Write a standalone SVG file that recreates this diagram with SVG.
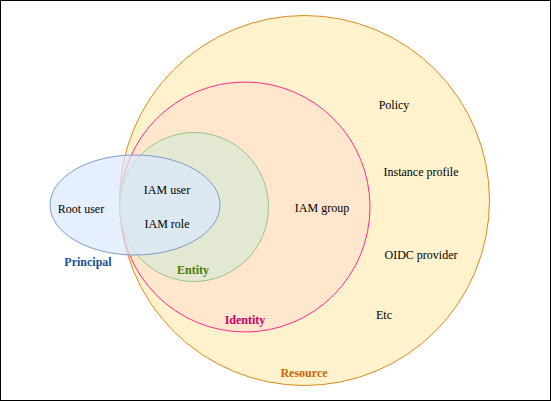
<svg xmlns="http://www.w3.org/2000/svg" width="551" height="401" viewBox="0 0 551 401">
<style>
.b{font-weight:bold}
</style>
<rect x="0.5" y="0.5" width="550" height="400" fill="#fff" stroke="#000"/>
<g font-family="'Liberation Serif', 'DejaVu Serif', serif" font-size="12" text-anchor="middle" fill="#000">
<g id="resource">
<circle cx="304.5" cy="200.5" r="185" fill="#fff2cc" stroke="#d88a1c"/>
<text class="b" x="304" y="377" fill="#cc6600">Resource</text>
<text x="394" y="109">Policy</text>
<text x="421" y="176">Instance profile</text>
<text x="421" y="259">OIDC provider</text>
<text x="384" y="319">Etc</text>
</g>
<g id="identity">
<circle cx="245" cy="207" r="125" fill="#ffe6cc" stroke="#ff2a8a"/>
<text class="b" x="245" y="324" fill="#cc0066">Identity</text>
<text x="322" y="212">IAM group</text>
</g>
<g id="entity">
<circle cx="194" cy="207" r="74.5" fill="#d5e8d4" fill-opacity="0.7" stroke="#97c587"/>
<text class="b" x="193" y="274" fill="#4d7a00">Entity</text>
</g>
<g id="principal">
<ellipse cx="135" cy="205" rx="85" ry="50" fill="#dae8fc" fill-opacity="0.7" stroke="#7b9bcc"/>
<text x="81" y="213">Root user</text>
<text x="167" y="194">IAM user</text>
<text x="167" y="228">IAM role</text>
<text class="b" x="88" y="266" fill="#1a509a">Principal</text>
</g>
</g>
<g id="connectors"></g>
</svg>
